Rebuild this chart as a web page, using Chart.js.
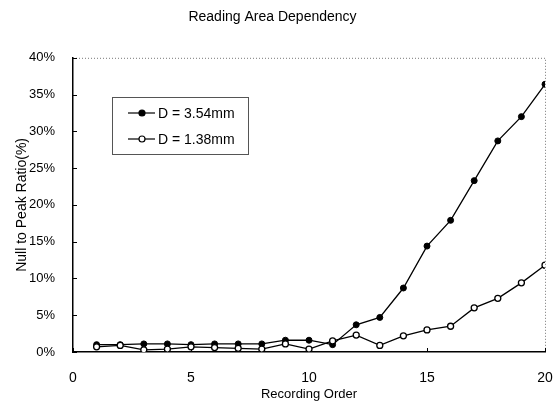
<!DOCTYPE html>
<html>
<head>
<meta charset="utf-8">
<script src="https://cdn.jsdelivr.net/npm/chart.js@4/dist/chart.umd.min.js"></script>
<style>
	html, body { margin: 0; padding: 0; background: #fff; }
	#wrap { width: 559px; height: 405px; }
</style>
</head>
<body>
<div id="wrap"><canvas id="chart"></canvas></div>
<script>
// recording order 1..20
const ORDERS = [1, 2, 3, 4, 5, 6, 7, 8, 9, 10, 11, 12, 13, 14, 15, 16, 17, 18, 19, 20];
// null to peak ratio in percent
const D354 = [1.0, 1.0, 1.1, 1.1, 1.0, 1.1, 1.1, 1.1, 1.6, 1.6, 1.0, 3.7, 4.7, 8.7, 14.4, 17.9, 23.3, 28.7, 32.0, 36.4];
const D138 = [0.7, 0.9, 0.3, 0.4, 0.7, 0.6, 0.5, 0.4, 1.1, 0.4, 1.5, 2.3, 0.9, 2.2, 3.0, 3.5, 6.0, 7.3, 9.4, 11.8];
const SERIES_LABELS = ['D = 3.54mm', 'D = 1.38mm'];
const X_TICKS = [0, 5, 10, 15, 20];
const Y_TICKS = [0, 5, 10, 15, 20, 25, 30, 35, 40];

const FONT = 'Liberation Sans, Arial, Helvetica, sans-serif';

function to_points(values) {
	return ORDERS.map((o, i) => { return {x: o, y: values[i]} });
}

// dotted top/right frame and inward tick marks
const frame_plugin = {
	id: 'frame',
	beforeDatasetsDraw(chart) {
		let ctx = chart.ctx;
		let a = chart.chartArea;
		ctx.save();
		ctx.strokeStyle = '#777';
		ctx.lineWidth = 1;
		ctx.setLineDash([1, 2]);
		ctx.beginPath();
		ctx.moveTo(a.left, a.top + 0.5);
		ctx.lineTo(a.right + 0.5, a.top + 0.5);
		ctx.lineTo(a.right + 0.5, a.bottom);
		ctx.stroke();
		ctx.setLineDash([]);
		ctx.strokeStyle = '#000';
		ctx.beginPath();
		Y_TICKS.forEach(v => {
			let y = Math.round(chart.scales.y.getPixelForValue(v)) + 0.5;
			ctx.moveTo(a.left, y);
			ctx.lineTo(a.left + 4, y);
		});
		X_TICKS.forEach(v => {
			let x = Math.round(chart.scales.x.getPixelForValue(v)) + 0.5;
			ctx.moveTo(x, a.bottom);
			ctx.lineTo(x, a.bottom - 4);
		});
		ctx.stroke();
		ctx.restore();
	}
};

// boxed legend inside the plot area
const legend_plugin = {
	id: 'boxlegend',
	afterDraw(chart) {
		let ctx = chart.ctx;
		let box = {x: 112, y: 97, w: 136, h: 57};
		ctx.save();
		ctx.fillStyle = '#fff';
		ctx.fillRect(box.x, box.y, box.w, box.h);
		ctx.strokeStyle = '#555';
		ctx.lineWidth = 1;
		ctx.strokeRect(box.x + 0.5, box.y + 0.5, box.w, box.h);
		ctx.font = '14px ' + FONT;
		ctx.textBaseline = 'middle';
		chart.data.datasets.forEach((ds, i) => {
			let y = box.y + 16 + i * 26;
			ctx.strokeStyle = '#000';
			ctx.lineWidth = 1.2;
			ctx.beginPath();
			ctx.moveTo(box.x + 16, y);
			ctx.lineTo(box.x + 43, y);
			ctx.stroke();
			ctx.beginPath();
			ctx.arc(box.x + 30, y, 3, 0, Math.PI * 2);
			ctx.fillStyle = ds.pointBackgroundColor;
			ctx.fill();
			ctx.stroke();
			ctx.fillStyle = '#000';
			ctx.fillText(ds.label, box.x + 46, y + 1);
		});
		ctx.restore();
	}
};

new Chart(document.getElementById('chart'), {
	type: 'line',
	data: {
		datasets: [{
			label: SERIES_LABELS[0],
			data: to_points(D354),
			borderColor: '#000',
			borderWidth: 1.3,
			pointBackgroundColor: '#000',
			pointBorderColor: '#000',
			pointRadius: 3,
			pointBorderWidth: 1,
			order: 2
		}, {
			label: SERIES_LABELS[1],
			data: to_points(D138),
			borderColor: '#000',
			borderWidth: 1.3,
			pointBackgroundColor: '#fff',
			pointBorderColor: '#000',
			pointRadius: 3,
			pointBorderWidth: 1.3,
			order: 1
		}]
	},
	options: {
		responsive: true,
		maintainAspectRatio: false,
		animation: false,
		layout: {
			padding: {left: 0, right: 14, top: 0, bottom: 0}
		},
		plugins: {
			legend: { display: false },
			tooltip: { enabled: false },
			title: {
				display: true,
				text: 'Reading Area Dependency',
				color: '#000',
				font: { family: FONT, size: 14, weight: 'normal' },
				padding: { top: 9, bottom: 32 }
			}
		},
		scales: {
			x: {
				type: 'linear',
				min: 0,
				max: 20,
				afterFit: (scale) => { scale.height = 53; scale.paddingRight = 0; scale.paddingLeft = 0; },
				afterBuildTicks: (scale) => { scale.ticks = X_TICKS.map(v => ({value: v})); },
				grid: { display: false },
				border: { display: true, color: '#000', width: 1.5 },
				ticks: {
					color: '#000',
					padding: 10,
					maxRotation: 0,
					font: { family: FONT, size: 14 }
				},
				title: {
					display: true,
					text: 'Recording Order',
					color: '#000',
					font: { family: FONT, size: 13 },
					padding: { top: 0, bottom: 3 }
				}
			},
			y: {
				min: 0,
				max: 40,
				afterFit: (scale) => { scale.width = 73; },
				afterBuildTicks: (scale) => { scale.ticks = Y_TICKS.map(v => ({value: v})); },
				grid: { display: false },
				border: { display: true, color: '#000', width: 1.5 },
				ticks: {
					color: '#000',
					padding: 10,
					font: { family: FONT, size: 13 },
					callback: (v) => v + '%'
				},
				title: {
					display: true,
					text: 'Null to Peak Ratio(%)',
					color: '#000',
					font: { family: FONT, size: 14 },
					padding: { top: 14, bottom: 0 }
				}
			}
		}
	},
	plugins: [frame_plugin, legend_plugin]
});
</script>
</body>
</html>
